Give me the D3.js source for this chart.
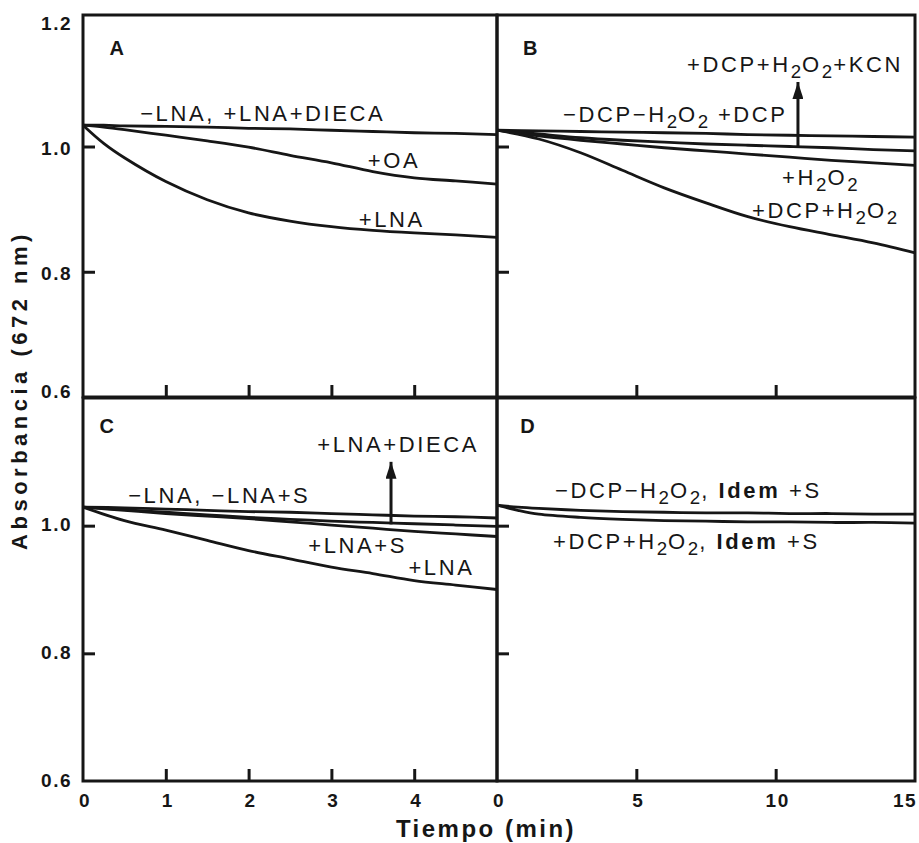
<!DOCTYPE html>
<html>
<head>
<meta charset="utf-8">
<script src="https://cdn.jsdelivr.net/npm/d3@7"></script>
<style>
  body { margin: 0; background: #fff; }
  svg { display: block; }
</style>
</head>
<body>
<div id="chart"></div>
<script>
// Time points (min)
const tA = [0, 0.25, 0.5, 1, 1.5, 2, 2.5, 3, 3.5, 4, 4.5, 5];
const tB = [0, 1.5, 3, 4.5, 6, 7.5, 9, 10.5, 12, 13.5, 15];
const tC = [0, 0.5, 1, 1.5, 2, 2.5, 3, 3.5, 4, 4.5, 5];
const tD = [0, 0.75, 1.5, 3, 4.5, 6, 7.5, 9, 10.5, 12, 13.5, 15];

// Absorbancia (672 nm)
const aControl = [1.034, 1.034, 1.033, 1.032, 1.031, 1.029, 1.028, 1.026, 1.024, 1.022, 1.021, 1.019];
const aOA      = [1.034, 1.031, 1.027, 1.018, 1.009, 0.999, 0.986, 0.974, 0.960, 0.950, 0.945, 0.940];
const aLNA     = [1.034, 1.005, 0.982, 0.944, 0.915, 0.894, 0.881, 0.872, 0.866, 0.862, 0.859, 0.855];

const bNone    = [1.026, 1.025, 1.024, 1.023, 1.022, 1.021, 1.019, 1.018, 1.017, 1.016, 1.015];
const bDCP     = [1.026, 1.020, 1.014, 1.010, 1.007, 1.004, 1.002, 1.000, 0.998, 0.995, 0.993];
const bH2O2    = [1.026, 1.017, 1.010, 1.004, 0.998, 0.993, 0.988, 0.983, 0.978, 0.974, 0.970];
const bDCPH2O2 = [1.026, 1.012, 0.990, 0.962, 0.934, 0.910, 0.888, 0.872, 0.859, 0.846, 0.830];

const cNone    = [1.029, 1.028, 1.026, 1.024, 1.022, 1.021, 1.019, 1.017, 1.015, 1.014, 1.012];
const cS       = [1.029, 1.025, 1.021, 1.017, 1.013, 1.010, 1.007, 1.005, 1.003, 1.001, 0.999];
const cLNAS    = [1.029, 1.024, 1.019, 1.015, 1.011, 1.006, 1.001, 0.996, 0.991, 0.987, 0.983];
const cLNA     = [1.029, 1.008, 0.993, 0.977, 0.961, 0.948, 0.935, 0.925, 0.914, 0.907, 0.900];

const dNone    = [1.032, 1.029, 1.027, 1.024, 1.022, 1.021, 1.020, 1.020, 1.019, 1.019, 1.018, 1.018];
const dDCPH2O2 = [1.032, 1.024, 1.018, 1.013, 1.010, 1.008, 1.007, 1.006, 1.006, 1.005, 1.005, 1.004];

// Tick values
const xTicksShort = [0, 1, 2, 3, 4];
const xTicksLong = [0, 5, 10, 15];
const yTicksTop = [1.2, 1.0, 0.8, 0.6];
const yTicksBottom = [1.0, 0.8, 0.6];

// Labels: [panel, text, t, absorbance]   (_2 = subscript, *..* = bold)
const labels = [
  ["A", "−LNA, +LNA+DIECA", 0.69, 1.041],
  ["A", "+OA", 3.44, 0.966],
  ["A", "+LNA", 3.33, 0.871],
  ["B", "+DCP+H_2O_2+KCN", 6.82, 1.119],
  ["B", "−DCP−H_2O_2 +DCP", 2.37, 1.039],
  ["B", "+H_2O_2", 10.23, 0.939],
  ["B", "+DCP+H_2O_2", 9.15, 0.886],
  ["C", "+LNA+DIECA", 2.83, 1.115],
  ["C", "−LNA, −LNA+S", 0.545, 1.035],
  ["C", "+LNA+S", 2.72, 0.957],
  ["C", "+LNA", 3.93, 0.922],
  ["D", "−DCP−H_2O_2, *Idem* +S", 2.08, 1.043],
  ["D", "+DCP+H_2O_2, *Idem* +S", 2.01, 0.964]
];
// Arrows: [panel, t, from, to]
const arrows = [["B", 10.8, 1.000, 1.103], ["C", 3.72, 1.002, 1.100]];

const W = 919, H = 843;
const X0 = 83, XM = 497, X1 = 915;
const Y0 = 15, YM = 397, Y1 = 781;
const ink = "#161616";

const xShort = d3.scaleLinear().domain([0, 5]).range([X0, XM]);
const xLong = d3.scaleLinear().domain([0, 15]).range([XM, X1]);
const yTop = d3.scaleLinear().domain([0.6, 1.21]).range([YM, Y0]);
const yBot = d3.scaleLinear().domain([0.6, 1.2]).range([Y1, YM + 1]);

const panels = {
  A: { x: xShort, y: yTop, t: tA, series: [aControl, aOA, aLNA], xt: [1, 2, 3, 4], letter: [0.32, 1.146] },
  B: { x: xLong, y: yTop, t: tB, series: [bNone, bDCP, bH2O2, bDCPH2O2], xt: [5, 10], letter: [0.93, 1.146] },
  C: { x: xShort, y: yBot, t: tC, series: [cNone, cS, cLNAS, cLNA], xt: [1, 2, 3, 4], letter: [0.2, 1.145] },
  D: { x: xLong, y: yBot, t: tD, series: [dNone, dDCPH2O2], xt: [5, 10], letter: [0.83, 1.145] }
};

const svg = d3.select("#chart").append("svg")
  .attr("width", W)
  .attr("height", H)
  .attr("font-family", "'Liberation Sans', Arial, sans-serif")
  .style("background", "#fff");

svg.append("defs").append("marker")
  .attr("id", "head")
  .attr("viewBox", "0 0 10 10")
  .attr("preserveAspectRatio", "none")
  .attr("refX", 10).attr("refY", 5)
  .attr("markerWidth", 17).attr("markerHeight", 11)
  .attr("markerUnits", "userSpaceOnUse")
  .attr("orient", "auto")
  .append("path").attr("d", "M0,0 L10,5 L0,10 z").attr("fill", ink);

// write text with subscripts / bold parts
function rich(text, str) {
  let shift = 0;
  str.split(/(_2|\*[^*]+\*)/).filter(s => s).forEach(s => {
    const ts = text.append("tspan");
    if (s === "_2") {
      ts.text("2").attr("font-size", "0.85em").attr("letter-spacing", 1).attr("dy", 6);
      shift = 6;
    } else {
      if (shift) { ts.attr("dy", -shift); shift = 0; }
      if (s[0] === "*") ts.text(s.slice(1, -1)).attr("font-weight", "bold");
      else ts.text(s);
    }
  });
}

const line = (x, y) => d3.line().x(d => x(d[0])).y(d => y(d[1])).curve(d3.curveCatmullRom.alpha(0.5));

Object.entries(panels).forEach(([key, p]) => {
  const [xa, xb] = p.x.range();
  const [ya, yb] = p.y.range();

  // curves
  p.series.forEach(vals => {
    svg.append("path")
      .datum(p.t.map((t, i) => [t, vals[i]]))
      .attr("fill", "none")
      .attr("stroke", ink)
      .attr("stroke-width", 2.8)
      .attr("d", line(p.x, p.y));
  });

  // inner ticks
  const gx = svg.append("g")
    .attr("transform", `translate(0,${ya})`)
    .call(d3.axisBottom(p.x).tickValues(p.xt).tickSize(-12).tickFormat(""));
  const gy = svg.append("g")
    .attr("transform", `translate(${xa},0)`)
    .call(d3.axisLeft(p.y).tickValues([1.0, 0.8]).tickSize(-12).tickFormat(""));
  [gx, gy].forEach(g => {
    g.select(".domain").remove();
    g.selectAll("line").attr("stroke", ink).attr("stroke-width", 3);
  });

  // frame
  svg.append("rect")
    .attr("x", xa).attr("y", yb)
    .attr("width", xb - xa).attr("height", ya - yb)
    .attr("fill", "none")
    .attr("stroke", ink)
    .attr("stroke-width", 3);

  // panel letter
  svg.append("text")
    .attr("x", p.x(p.letter[0]))
    .attr("y", p.y(p.letter[1]))
    .attr("font-size", 20)
    .attr("font-weight", "bold")
    .attr("fill", ink)
    .text(key);
});

// curve labels
labels.forEach(([key, str, t, v]) => {
  const p = panels[key];
  const txt = svg.append("text")
    .attr("x", p.x(t))
    .attr("y", p.y(v))
    .attr("font-size", 22)
    .attr("letter-spacing", 2.6)
    .attr("fill", ink);
  rich(txt, str);
});

// arrows
arrows.forEach(([key, t, v0, v1]) => {
  const p = panels[key];
  svg.append("line")
    .attr("x1", p.x(t)).attr("x2", p.x(t))
    .attr("y1", p.y(v0)).attr("y2", p.y(v1))
    .attr("stroke", ink)
    .attr("stroke-width", 3)
    .attr("marker-end", "url(#head)");
});

// tick labels
const tickText = g => g.attr("font-size", 19).attr("font-weight", "bold")
  .attr("letter-spacing", 1.5).attr("fill", ink);

svg.append("g").call(tickText).attr("text-anchor", "end")
  .selectAll("text").data(yTicksTop).join("text")
  .attr("x", 72).attr("y", d => yTop(d)).attr("dy", d => d === 0.6 ? "0.05em" : "0.45em")
  .text(d => d3.format(".1f")(d));

svg.append("g").call(tickText).attr("text-anchor", "end")
  .selectAll("text").data(yTicksBottom).join("text")
  .attr("x", 72).attr("y", d => yBot(d)).attr("dy", "0.3em")
  .text(d => d3.format(".1f")(d));

svg.append("g").call(tickText).attr("text-anchor", "middle")
  .selectAll("text").data(xTicksShort).join("text")
  .attr("x", d => xShort(d) + 2).attr("y", 807)
  .text(d => d);

svg.append("g").call(tickText).attr("text-anchor", "middle")
  .selectAll("text").data(xTicksLong).join("text")
  .attr("x", d => Math.min(xLong(d) + 2, W - 14)).attr("y", 807)
  .text(d => d);

// axis titles
svg.append("text")
  .attr("x", 486).attr("y", 837)
  .attr("text-anchor", "middle")
  .attr("font-size", 24)
  .attr("font-weight", "bold")
  .attr("letter-spacing", 2.5)
  .attr("fill", ink)
  .text("Tiempo (min)");

svg.append("text")
  .attr("transform", "translate(27,390) rotate(-90)")
  .attr("text-anchor", "middle")
  .attr("font-size", 22)
  .attr("font-weight", "bold")
  .attr("letter-spacing", 4.5)
  .attr("fill", ink)
  .text("Absorbancia (672 nm)");
</script>
</body>
</html>
